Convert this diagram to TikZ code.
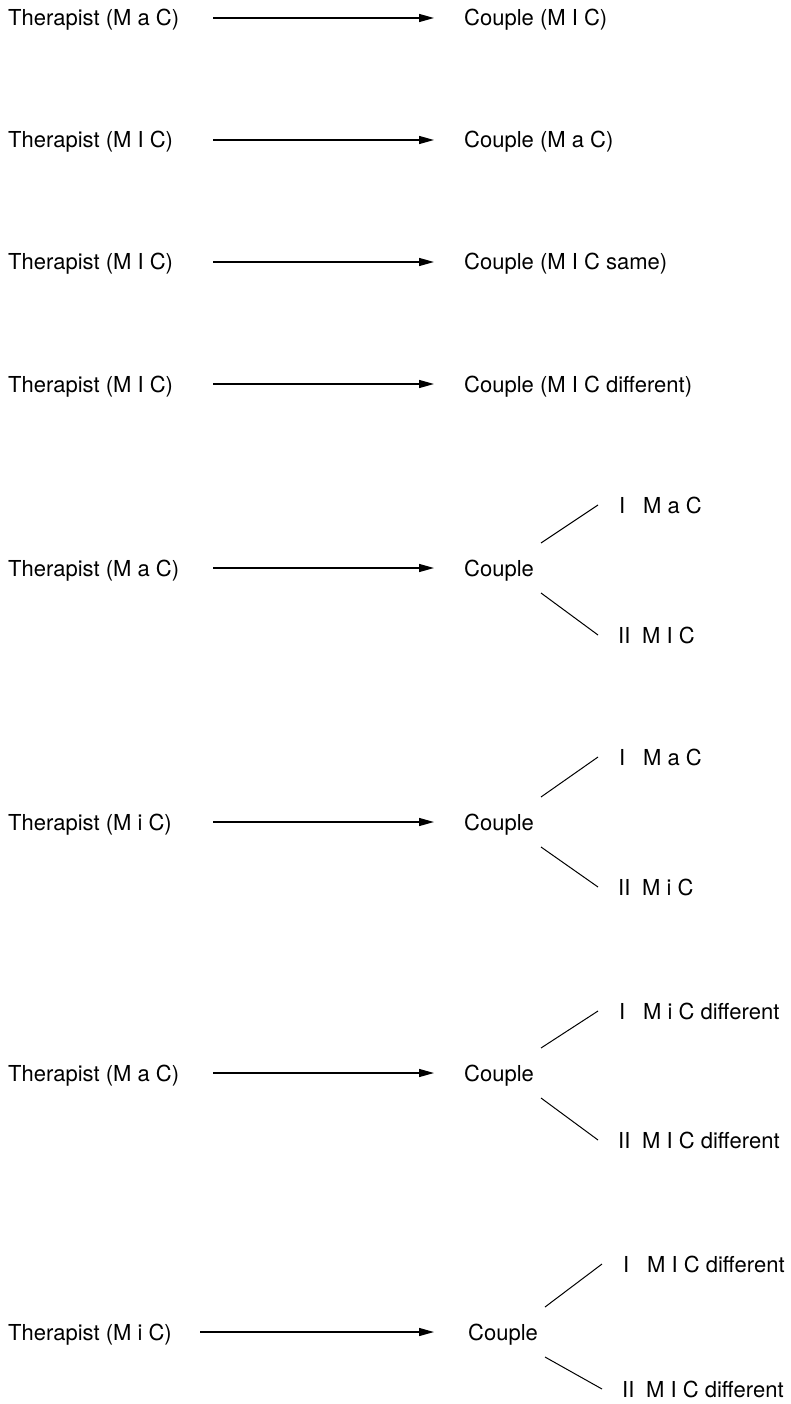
\documentclass[tikz,border=0pt]{standalone}
\usepackage{fontspec}
\setmainfont{TeX Gyre Heros}
\usetikzlibrary{arrows.meta}
\begin{document}
\begin{tikzpicture}[x=1pt,y=-1pt,
  lbl/.style={anchor=base west,inner sep=0pt,font=\fontsize{22}{26}\selectfont},
  flow/.style={line width=1.3pt,-{Triangle[length=15pt,width=8pt]}},
  branch/.style={line width=1pt}]
\useasboundingbox (0,0) rectangle (790,1404);
\newcommand{\rn}[1]{\makebox[24pt][l]{#1}}

% simple pairs: therapist -> couple
\foreach \i/\y/\t/\c in {1/18/M a C/M I C, 2/140/M I C/M a C,
                         3/262/M I C/M I C same, 4/384/M I C/M I C different}{
  \node[lbl] (t\i) at (8,\y+8) {Therapist (\t)};
  \node[lbl] (c\i) at (464,\y+8) {Couple (\c)};
  \coordinate (s\i) at (213,\y);
  \coordinate (e\i) at (434,\y);
  \draw[flow] (s\i) -- (e\i);
}

% pairs where the couple splits into two positions I and II
\foreach \i/\y/\x/\ax/\t/\up/\lo/\uy/\ly in {
    5/568/464/213/M a C/M a C/M I C/505/635,
    6/822/464/213/M i C/M a C/M i C/757/887,
    7/1073/464/213/M a C/M i C different/M I C different/1011/1140,
    8/1332/468/200/M i C/M I C different/M I C different/1264/1389}{
  \node[lbl] (t\i) at (8,\y+8) {Therapist (\t)};
  \node[lbl] (c\i) at (\x,\y+8) {Couple};
  \coordinate (s\i) at (\ax,\y);
  \coordinate (e\i) at (434,\y);
  \draw[flow] (s\i) -- (e\i);
  \node[lbl] (p\i) at (\x+155,\uy+8) {\rn{I}\up};
  \node[lbl] (q\i) at (\x+154,\ly+8) {\rn{II}\lo};
  \coordinate (ua\i) at (\x+77,\y-25);
  \coordinate (ub\i) at (\x+134,\uy);
  \coordinate (la\i) at (\x+77,\y+25);
  \coordinate (lb\i) at (\x+134,\ly);
  \draw[branch] (ua\i) -- (ub\i);
  \draw[branch] (la\i) -- (lb\i);
}
\end{tikzpicture}
\end{document}
